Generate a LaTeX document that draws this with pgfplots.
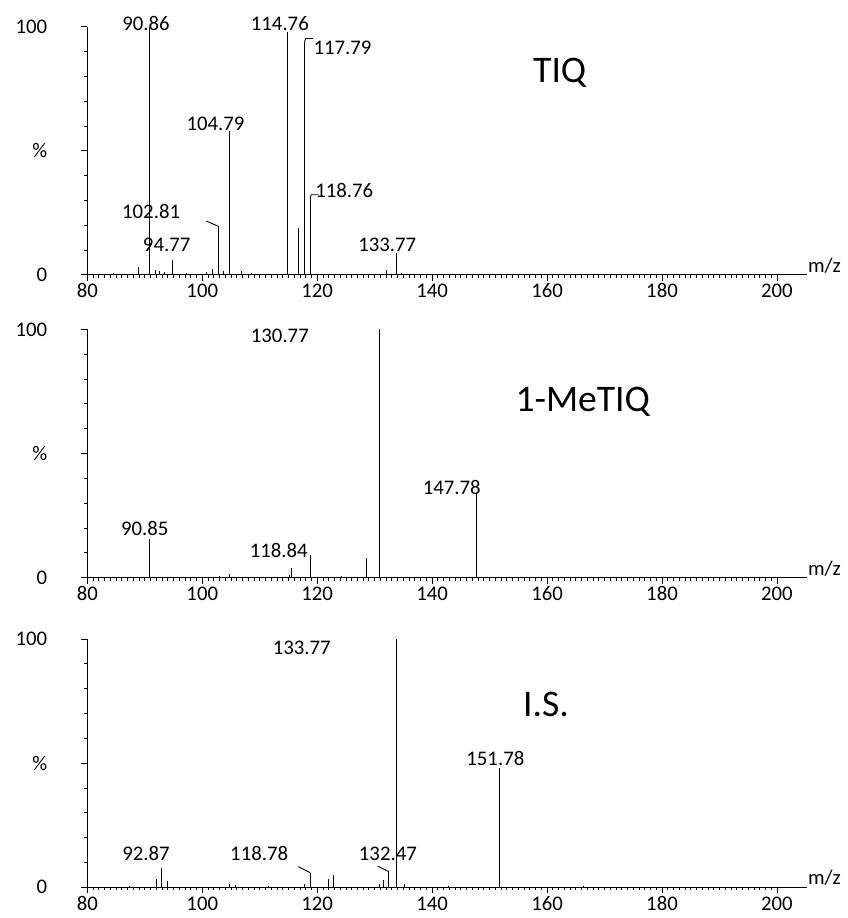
\documentclass[border=0pt]{standalone}
\usepackage{fontspec}
\setmainfont{Carlito}
\usepackage{pgfplots}
\pgfplotsset{compat=1.18}
\tikzset{
  lbl/.style={font=\fontsize{21}{25}\selectfont, inner sep=0pt},
  ttl/.style={font=\fontsize{38}{44}\selectfont, inner sep=0pt},
}
\pgfplotsset{ms/.style={
  scale only axis, width=725bp, height=250bp,
  xmin=80, xmax=205.2, ymin=0, ymax=100,
  axis lines*=left, clip=false,
  axis line style={black, line width=1.1bp},
  xtick={80,100,...,200}, minor x tick num=19,
  ytick={0,50,100}, yticklabels={0,\%,100},
  minor ytick={10,20,...,90},
  tick align=outside, major tick length=6bp, minor tick length=3bp,
  every tick/.style={black, line width=0.9bp},
  /pgf/number format/assume math mode=true,
  ticklabel style={font=\fontsize{21}{25}\selectfont},
  yticklabel style={xshift=-31bp},
  xticklabel style={text height=14bp, text depth=0bp, inner sep=2bp, yshift=-1bp},
}}
\begin{document}
\begin{tikzpicture}
\useasboundingbox (-88bp,-648bp) rectangle (766bp,277bp);
% ---------------- TIQ ----------------
\begin{axis}[ms, at={(0bp,0bp)}, anchor=south west]
\addplot[ycomb, black, line width=0.9bp, mark=none] coordinates {
(84.5,0.6) (86.9,0.5) (88.9,3) (90.86,100) (91.9,2) (92.6,1.5) (93.5,1) (94.77,6)
(97.3,0.6) (100.8,1) (101.8,2.5) (102.81,19.6) (103.7,1.5) (104.79,58) (106.8,1.5)
(108.5,0.8) (111.2,0.5) (114.76,98) (116.8,19) (117.79,94) (118.76,31)
(124.5,0.5) (132.1,2) (133.77,9) (134.6,0.8) (142.3,0.4) (150.5,0.4)};
\draw[black, line width=0.9bp] (axis cs:117.79,94) -- (axis cs:118.0,95.3) -- (axis cs:119.3,95.3);
\draw[black, line width=0.9bp] (axis cs:118.76,31) -- (axis cs:118.95,32.3) -- (axis cs:120.2,32.3);
\draw[black, line width=0.9bp] (axis cs:102.81,19.6) -- (axis cs:100.7,21.7);
\node[lbl] at (axis cs:90.2,101.2) {90.86};
\node[lbl] at (axis cs:113.5,101.2) {114.76};
\node[lbl] at (axis cs:124.4,91.6) {117.79};
\node[lbl] at (axis cs:102.3,60.8) {104.79};
\node[lbl] at (axis cs:124.7,34) {118.76};
\node[lbl] at (axis cs:91.1,25.6) {102.81};
\node[lbl] at (axis cs:93.8,12) {94.77};
\node[lbl] at (axis cs:132.2,12) {133.77};
\node[ttl] at (axis cs:162.2,81.6) {TIQ};
\node[lbl, anchor=base west, inner sep=1bp] at (axis cs:205.2,1) {m/z};
\end{axis}
% ---------------- 1-MeTIQ ----------------
\begin{axis}[ms, at={(0bp,-305bp)}, anchor=south west]
\addplot[ycomb, black, line width=0.9bp, mark=none] coordinates {
(86.2,0.4) (90.85,15.6) (98.5,0.4) (103,0.6) (104.8,1.5) (110.3,0.4) (115.1,1) (115.6,4)
(118.84,9) (124.2,0.5) (128.5,8) (130.77,100) (136.5,0.4) (147.78,34) (163.5,0.4)};
\node[lbl] at (axis cs:113.5,97.6) {130.77};
\node[lbl] at (axis cs:90.0,19.6) {90.85};
\node[lbl] at (axis cs:113.3,10.8) {118.84};
\node[lbl] at (axis cs:143.4,36.4) {147.78};
\node[ttl] at (axis cs:166.2,70.8) {1-MeTIQ};
\node[lbl, anchor=base west, inner sep=1bp] at (axis cs:205.2,1) {m/z};
\end{axis}
% ---------------- I.S. ----------------
\begin{axis}[ms, at={(0bp,-617bp)}, anchor=south west]
\addplot[ycomb, black, line width=0.9bp, mark=none] coordinates {
(87.3,0.4) (92.0,3.5) (92.87,7.6) (93.9,2.5) (104.8,1.2) (105.8,1) (111.5,0.4) (117.8,1.5)
(118.78,5.9) (121.9,3.5) (122.8,5) (130.8,1.5) (131.6,3) (132.47,6.3) (133.77,100)
(135.2,1.5) (142.8,0.4) (151.78,48) (166.3,0.4)};
\draw[black, line width=0.9bp] (axis cs:118.78,5.9) -- (axis cs:116.7,8.3);
\draw[black, line width=0.9bp] (axis cs:132.47,6.3) -- (axis cs:130.5,8.5);
\node[lbl] at (axis cs:117.3,96.4) {133.77};
\node[lbl] at (axis cs:90.2,13.6) {92.87};
\node[lbl] at (axis cs:109.9,13.6) {118.78};
\node[lbl] at (axis cs:132.3,13.6) {132.47};
\node[lbl] at (axis cs:151.0,52) {151.78};
\node[ttl] at (axis cs:159.8,73.6) {I.S.};
\node[lbl, anchor=base west, inner sep=1bp] at (axis cs:205.2,1) {m/z};
\end{axis}
\end{tikzpicture}
\end{document}
